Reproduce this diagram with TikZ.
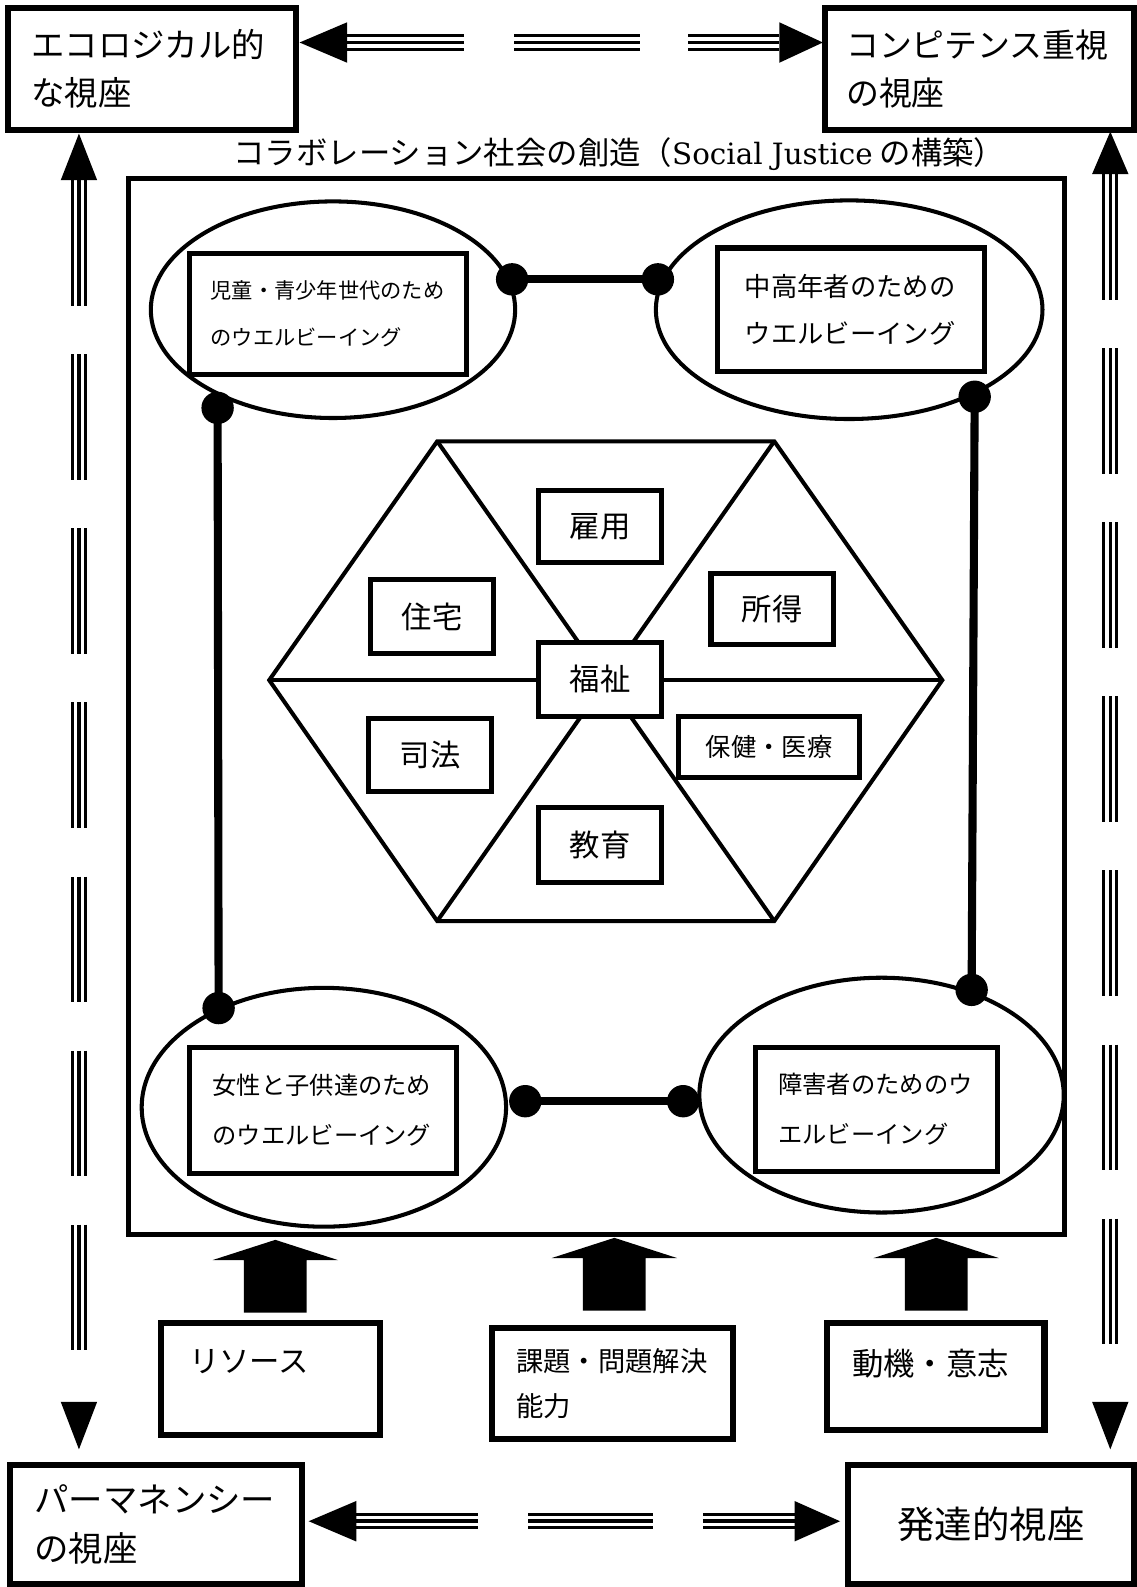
\documentclass[tikz,border=0pt]{standalone}
\usepackage{fontspec}
\setmainfont{Noto Sans CJK JP}
\newfontfamily\latinserif{DejaVu Serif}
\usetikzlibrary{shapes.geometric,calc}
\begin{document}
\begin{tikzpicture}[x=1pt,y=-1pt,
  obox/.style={draw,line width=6pt,rectangle,inner sep=0pt,align=left},
  ibox/.style={draw,line width=5pt,fill=white,rectangle,inner sep=0pt,align=left},
  hbox/.style={draw,line width=5pt,fill=white,rectangle,inner sep=0pt,align=center},
  ell/.style={draw,ellipse,line width=4pt,inner sep=0pt},
  dotn/.style={circle,fill=black,inner sep=0pt,minimum size=32pt},
  link/.style={line width=8pt},
  hexl/.style={line width=4pt,line join=miter},
  tripA/.style={line width=16pt},
  tripB/.style={line width=10pt,draw=white},
  tripC/.style={line width=3.5pt},
  blockup/.pic={\fill (-31,0) -- (-31,-52) -- (-62,-52) -- (0,-72) -- (62,-52) -- (31,-52) -- (31,0) -- cycle;}
]
\useasboundingbox (0,0) rectangle (1123,1568);

% ---------- outer corner boxes ----------
\node[obox,minimum width=284pt,minimum height=120pt,text width=238pt,font=\fontsize{33}{48}\selectfont] (eco) at (150,68) {エコロジカル的\\な視座};
\node[obox,minimum width=305pt,minimum height=120pt,text width=263pt,font=\fontsize{32.5}{48}\selectfont] (comp) at (967.5,68) {コンピテンス重視\\の視座};
\node[obox,minimum width=288pt,minimum height=118pt,text width=240pt,font=\fontsize{34}{49}\selectfont] (perm) at (154,1506) {パーマネンシー\\の視座};
\node[obox,minimum width=282pt,minimum height=118pt,font=\fontsize{37}{40}\selectfont] (dev) at (979,1506) {発達的視座};

% ---------- title ----------
\node[font=\fontsize{31}{34}\selectfont,inner sep=0pt] (title) at (612,152) {コラボレーション社会の創造（{\latinserif\fontsize{29}{34}\selectfont Social Justice} の構築）};

% ---------- main frame ----------
\node[draw,line width=5pt,minimum width=925pt,minimum height=1044pt,inner sep=0pt] (frame) at (589.5,698) {};

% ---------- ellipses ----------
\node[ell,minimum width=360pt,minimum height=214pt] (e1) at (329,306) {};
\node[ell,minimum width=382pt,minimum height=216pt] (e2) at (839,306) {};
\node[ell,minimum width=360pt,minimum height=236pt] (e3) at (320,1094) {};
\node[ell,minimum width=360pt,minimum height=232pt] (e4) at (871,1082) {};

\node[ibox,minimum width=274pt,minimum height=120pt,text width=232pt,font=\fontsize{21}{47}\selectfont] (b1) at (324,310) {児童・青少年世代のため\\のウエルビーイング};
\node[ibox,minimum width=264pt,minimum height=122pt,text width=210pt,font=\fontsize{26}{47}\selectfont] (b2) at (841,306) {中高年者のための\\ウエルビーイング};
\node[ibox,minimum width=264pt,minimum height=124pt,text width=218pt,font=\fontsize{24}{50}\selectfont] (b3) at (319,1097) {女性と子供達のため\\のウエルビーイング};
\node[ibox,minimum width=240pt,minimum height=122pt,text width=194pt,font=\fontsize{24}{49}\selectfont] (b4) at (866,1096) {障害者のためのウ\\エルビーイング};

% ---------- dots and links ----------
\node[dotn] (d1) at (506,276) {};
\node[dotn] (d2) at (650,276) {};
\node[dotn] (d3) at (215,403) {};
\node[dotn] (d4) at (216,996) {};
\node[dotn] (d5) at (963,392) {};
\node[dotn] (d6) at (960,978) {};
\node[dotn] (d7) at (519,1088) {};
\node[dotn] (d8) at (675,1088) {};
\draw[link] (d1.center) -- (d2.center);
\draw[link] (d3.center) -- (d4.center);
\draw[link] (d5.center) -- (d6.center);
\draw[link] (d7.center) -- (d8.center);

% ---------- hexagon ----------
\draw[hexl] (432,436) -- (765,436) -- (931,672) -- (765,910) -- (432,910) -- (266,672) -- cycle;
\draw[hexl] (266,672) -- (931,672);
\draw[hexl] (432,436) -- (765,910);
\draw[hexl] (765,436) -- (432,910);

\node[hbox,minimum width=122pt,minimum height=71pt,font=\fontsize{30}{34}\selectfont] (koyo) at (593,520) {雇用};
\node[hbox,minimum width=121pt,minimum height=73pt,font=\fontsize{30}{34}\selectfont] (jutaku) at (427,609) {住宅};
\node[hbox,minimum width=121pt,minimum height=70pt,font=\fontsize{30}{34}\selectfont] (shotoku) at (763,602) {所得};
\node[hbox,minimum width=122pt,minimum height=73pt,font=\fontsize{30}{34}\selectfont] (fukushi) at (593,671) {福祉};
\node[hbox,minimum width=121pt,minimum height=72pt,font=\fontsize{30}{34}\selectfont] (shiho) at (425,746) {司法};
\node[hbox,minimum width=179pt,minimum height=60pt,font=\fontsize{25}{30}\selectfont] (hoken) at (760,738) {保健・医療};
\node[hbox,minimum width=122pt,minimum height=74pt,font=\fontsize{30}{34}\selectfont] (kyoiku) at (593,835) {教育};

% ---------- bottom boxes ----------
\node[obox,minimum width=216pt,minimum height=111pt] (res) at (267,1362.5) {\parbox[c][58pt][t]{160pt}{\fontsize{30}{34}\selectfont リソース}};
\node[obox,minimum width=238pt,minimum height=110pt,text width=190pt,font=\fontsize{27}{45}\selectfont] (kadai) at (605,1367) {課題・問題解決\\能力};
\node[obox,minimum width=215pt,minimum height=106pt] (moti) at (924.5,1360) {\parbox[c][54pt][t]{165pt}{\fontsize{31}{34}\selectfont 動機・意志}};

% ---------- block arrows ----------
\pic at (272,1297) {blockup};
\pic at (607,1295) {blockup};
\pic at (925,1295) {blockup};

% ---------- horizontal triple arrows ----------
\foreach \a/\b in {343/458, 508/632, 680/770} {
  \draw[tripA] (\a,42) -- (\b,42);
  \draw[tripB] (\a,42) -- (\b,42);
  \draw[tripC] (\a,42) -- (\b,42);
}
\fill (296,42) -- (343,22) -- (343,62) -- cycle;
\fill (813,42) -- (770,22) -- (770,62) -- cycle;

\foreach \a/\b in {352/472, 522/645, 695/785} {
  \draw[tripA] (\a,1503) -- (\b,1503);
  \draw[tripB] (\a,1503) -- (\b,1503);
  \draw[tripC] (\a,1503) -- (\b,1503);
}
\fill (305,1503) -- (352,1483) -- (352,1523) -- cycle;
\fill (830,1503) -- (785,1483) -- (785,1523) -- cycle;

% ---------- vertical triple arrows ----------
\foreach \x/\s in {78/178, 1097/172} {
  \draw[tripA,dash pattern=on 124pt off 48pt] (\x,\s) -- (\x,1337);
  \draw[tripB,dash pattern=on 124pt off 48pt] (\x,\s) -- (\x,1337);
  \draw[tripC,dash pattern=on 124pt off 48pt] (\x,\s) -- (\x,1337);
}
\fill (78,132) -- (60,178) -- (96,178) -- cycle;
\fill (78,1432) -- (60,1385) -- (96,1385) -- cycle;
\fill (1097,130) -- (1079,172) -- (1115,172) -- cycle;
\fill (1097,1432) -- (1079,1385) -- (1115,1385) -- cycle;
\end{tikzpicture}
\end{document}
